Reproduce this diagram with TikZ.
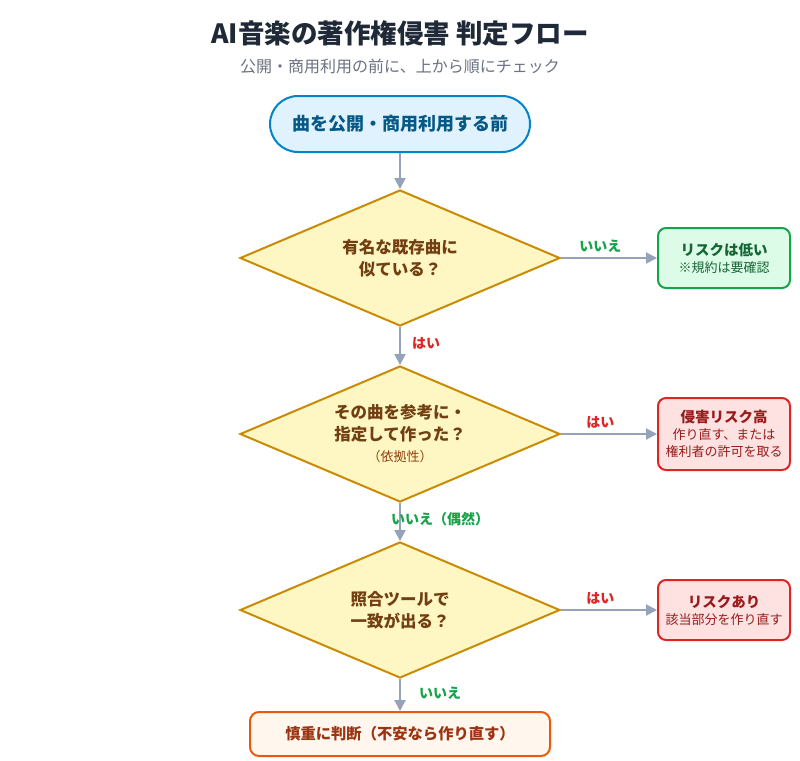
\documentclass[tikz,border=0pt]{standalone}
\usepackage{fontspec}
\setmainfont{Noto Sans CJK JP}
\usetikzlibrary{shapes.geometric,arrows.meta}
\definecolor{ink}{HTML}{1F2937}
\definecolor{muted}{HTML}{6B7280}
\definecolor{wire}{HTML}{94A3B8}
\definecolor{sky}{HTML}{0284C7}
\definecolor{skyfill}{HTML}{E0F2FE}
\definecolor{skyink}{HTML}{075985}
\definecolor{amber}{HTML}{CA8A04}
\definecolor{amberfill}{HTML}{FEF7C3}
\definecolor{amberink}{HTML}{713F12}
\definecolor{note}{HTML}{92400E}
\definecolor{okline}{HTML}{16A34A}
\definecolor{okfill}{HTML}{DCFCE7}
\definecolor{okink}{HTML}{166534}
\definecolor{ngline}{HTML}{DC2626}
\definecolor{ngfill}{HTML}{FEE2E2}
\definecolor{ngink}{HTML}{991B1B}
\definecolor{warn}{HTML}{EA580C}
\definecolor{warnfill}{HTML}{FFF7ED}
\definecolor{warnink}{HTML}{9A3412}
\newcommand{\fs}[2]{\fontsize{#1}{#2}\selectfont}
\tikzset{
  startbox/.style={rounded corners=28pt,draw=sky,fill=skyfill,line width=2pt,
                   minimum width=260pt,minimum height=56pt,text=skyink,
                   font=\bfseries\fs{18}{22}},
  ask/.style={diamond,aspect=2.35,draw=amber,fill=amberfill,line width=2pt,inner sep=0pt,
              minimum width=320pt,minimum height=136pt,align=center,
              text=amberink,font=\bfseries\fs{16.5}{22}},
  result/.style={rounded corners=8pt,draw=#1line,fill=#1fill,line width=2pt,
                 minimum width=132pt,align=center,text=#1ink,font=\fs{13}{17}},
  endbox/.style={rounded corners=9pt,draw=warn,fill=warnfill,line width=2pt,
                 minimum width=300pt,minimum height=44pt,text=warnink,
                 font=\bfseries\fs{15.3}{20}},
  arrow/.style={-{Triangle[length=11pt,width=11pt]},line width=2pt,color=wire},
  lbl/.style={font=\bfseries\fs{14}{16}},
}
\begin{document}
\begin{tikzpicture}[x=1pt,y=-1pt]
  \useasboundingbox[fill=white] (0,0) rectangle (800,760);
  \node[text=ink,font=\bfseries\fs{26.5}{30}] (title) at (400,33) {AI音楽の著作権侵害 判定フロー};
  \node[text=muted,font=\fs{16}{20}] (sub) at (400,66) {公開・商用利用の前に、上から順にチェック};

  \node[startbox] (start) at (400,124) {曲を公開・商用利用する前};

  % three questions, each with its exit on the right
  \foreach \i/\y/\q/\ans/\anscol/\col/\h/\res in {
    1/258/{有名な既存曲に\\似ている？}/いいえ/okline/ok/60/{{\bfseries\fs{14.5}{18}リスクは低い}\\※規約は要確認},
    2/434/{その曲を参考に・\\指定して作った？\\[-1pt]{\mdseries\fs{13}{16}\color{note}（依拠性）}}/はい/ngline/ng/72/{{\bfseries\fs{14.5}{20}侵害リスク高}\\作り直す、または\\権利者の許可を取る},
    3/610/{照合ツールで\\一致が出る？}/はい/ngline/ng/60/{{\bfseries\fs{14.5}{20}リスクあり}\\該当部分を作り直す}%
  }{
    \node[ask] (q\i) at (400,\y) {\q};
    \node[result=\col,minimum height=\h pt] (r\i) at (724,\y) {\res};
    \draw[arrow] (q\i.east) -- (r\i.west)
      node[lbl,text=\anscol,pos=0.41,above=1pt] {\ans};
  }
  \node[endbox] (final) at (400,734) {慎重に判断（不安なら作り直す）};

  \draw[arrow] (start) -- (q1);
  \draw[arrow] (q1) -- (q2) node[lbl,text=ngline,midway,xshift=26pt,yshift=3pt] {はい};
  \draw[arrow] (q2) -- (q3) node[lbl,text=okline,midway,xshift=40pt,yshift=3pt] {いいえ（偶然）};
  \draw[arrow] (q3) -- (final) node[lbl,text=okline,midway,xshift=40pt,yshift=2pt] {いいえ};
\end{tikzpicture}
\end{document}
